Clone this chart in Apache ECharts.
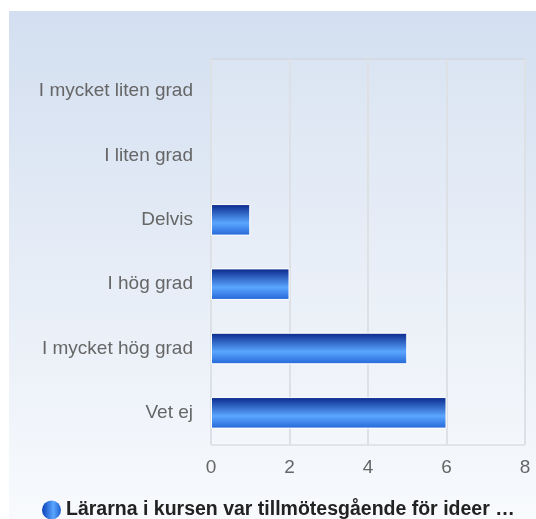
<!DOCTYPE html>
<html>
<head>
<meta charset="utf-8">
<script src="https://cdn.jsdelivr.net/npm/echarts@6/dist/echarts.min.js"></script>
<style>
  html, body { margin: 0; padding: 0; background: #fff; }
  #chart { width: 536px; height: 519px; }
</style>
</head>
<body>
<div id="chart"></div>
<script>
// data
const categories = ["I mycket liten grad", "I liten grad", "Delvis", "I hög grad", "I mycket hög grad", "Vet ej"];
const values = [0, 0, 1, 2, 5, 6];
const seriesName = "Lärarna i kursen var tillmötesgående för ideer …";

const chart = echarts.init(document.getElementById("chart"));

const barColor = new echarts.graphic.LinearGradient(0, 0, 0, 1, [
  { offset: 0, color: "#08268a" },
  { offset: 0.6, color: "#5aa6ff" },
  { offset: 1, color: "#2466d6" },
]);

// no outline on empty bars
const barData = values.map((v) => (v === 0 ? { value: v, itemStyle: { borderWidth: 0 } } : v));

const options = {
  animation: false,
  graphic: [
    {
      type: "rect",
      left: 9,
      top: 11,
      shape: { width: 527, height: 508 },
      z: -10,
      style: {
        fill: new echarts.graphic.LinearGradient(0, 0, 0, 1, [
          { offset: 0, color: "#d3dff0" },
          { offset: 1, color: "#f8fafd" },
        ]),
      },
    },
  ],
  grid: {
    left: 211,
    top: 59,
    right: 11,
    bottom: 74,
    show: true,
    borderColor: "#cfd3d8",
    borderWidth: 1,
    backgroundColor: "rgba(255,255,255,0.12)",
  },
  legend: {
    bottom: -6,
    left: 37,
    itemWidth: 19,
    itemHeight: 19,
    itemGap: 6,
    icon: "circle",
    itemStyle: {
      color: new echarts.graphic.LinearGradient(0, 0, 1, 0, [
        { offset: 0, color: "#0a3fb8" },
        { offset: 0.6, color: "#5aa6ff" },
        { offset: 1, color: "#1e5fd0" },
      ]),
      borderWidth: 0,
    },
    textStyle: {
      fontFamily: "Liberation Sans, Arial, sans-serif",
      fontSize: 19.5,
      fontWeight: "bold",
      color: "#222",
    },
    data: [seriesName],
  },
  xAxis: {
    type: "value",
    min: 0,
    max: 8,
    interval: 2,
    axisLine: { show: false },
    axisTick: { show: false },
    splitLine: { lineStyle: { color: "#dde1e6", width: 2 } },
    axisLabel: {
      margin: 13,
      fontFamily: "Liberation Sans, Arial, sans-serif",
      fontSize: 19,
      color: "#666",
    },
  },
  yAxis: {
    type: "category",
    inverse: true,
    data: categories,
    axisLine: { show: false },
    axisTick: { show: false },
    axisLabel: {
      margin: 18,
      fontFamily: "Liberation Sans, Arial, sans-serif",
      fontSize: 19,
      color: "#666",
    },
  },
  series: [
    {
      name: seriesName,
      type: "bar",
      data: barData,
      barWidth: "49%",
      itemStyle: {
        color: barColor,
        borderColor: "#ffffff",
        borderWidth: 1,
      },
    },
  ],
};

chart.setOption(options);
</script>
</body>
</html>
